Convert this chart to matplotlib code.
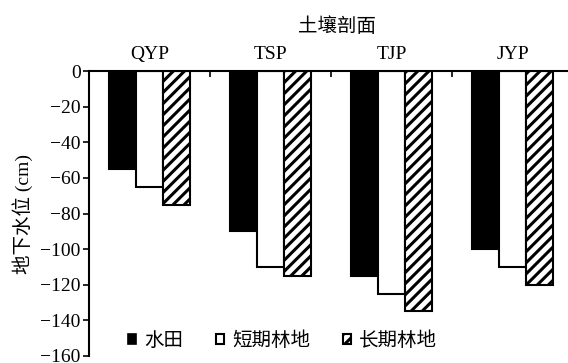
import matplotlib
matplotlib.use("Agg")
import matplotlib.pyplot as plt
import matplotlib.patches as mpatches
import numpy as np

plt.rcParams['font.family'] = ['Liberation Serif', 'Noto Sans CJK SC']
plt.rcParams['font.size'] = 14
plt.rcParams['hatch.linewidth'] = 2.2
plt.rcParams['axes.unicode_minus'] = True

# groundwater level by soil profile and land use
profiles = ['QYP', 'TSP', 'TJP', 'JYP']
paddy = [-55, -90, -115, -100]
short_forest = [-65, -110, -125, -110]
long_forest = [-75, -115, -135, -120]
series_names = ['水田', '短期林地', '长期林地']

fig = plt.figure(figsize=(5.68, 3.63), dpi=100)
ax = fig.add_axes([89 / 568, 7 / 363, 484 / 568, 285 / 363])

x = np.arange(len(profiles))
w = 0.225
ax.bar(x - w, paddy, w, color='black', edgecolor='black', linewidth=1.5)
ax.bar(x, short_forest, w, color='white', edgecolor='black', linewidth=1.5)
ax.bar(x + w, long_forest, w, color='white', edgecolor='black', linewidth=1.5,
       hatch='///')

ax.set_xlim(-0.5, len(profiles) - 0.5)
ax.set_ylim(-160, 0)
ax.set_yticks(np.arange(-160, 1, 20))
ax.tick_params(axis='y', direction='out', length=4, width=1.2, pad=2)

# category labels along the top, boundary ticks pointing down
ax.xaxis.tick_top()
ax.set_xticks(x)
ax.set_xticklabels(profiles)
ax.tick_params(axis='x', which='major', length=0, pad=6)
ax.set_xticks(x[:-1] + 0.5, minor=True)
ax.tick_params(axis='x', which='minor', direction='in', length=4, width=1.2, top=True)

for side in ['bottom', 'right']:
    ax.spines[side].set_visible(False)
for side in ['top', 'left']:
    ax.spines[side].set_linewidth(1.5)

ax.set_title('土壤剖面', pad=28, fontsize=14, x=0.512)
ax.set_ylabel('地下水位 (cm)', labelpad=5)

handles = [
    mpatches.Patch(facecolor='black', edgecolor='black', linewidth=1.2),
    mpatches.Patch(facecolor='white', edgecolor='black', linewidth=1.5),
    mpatches.Patch(facecolor='white', edgecolor='black', linewidth=1.5, hatch='///'),
]
ax.legend(handles, series_names, loc='lower left', bbox_to_anchor=(0.065, -0.005),
          ncol=3, frameon=False, handlelength=0.42, handleheight=0.42,
          handletextpad=0.4, columnspacing=1.7, borderaxespad=0)

fig.savefig('out.png', dpi=100)
